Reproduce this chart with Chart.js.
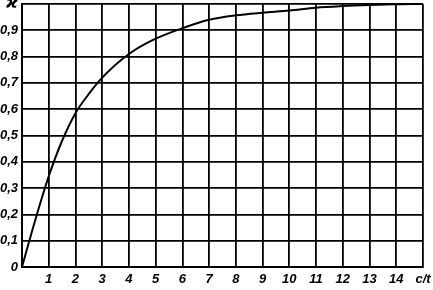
<!DOCTYPE html>
<html>
<head>
<meta charset="utf-8">
<script src="https://cdn.jsdelivr.net/npm/chart.js@4"></script>
<style>
  html, body { margin: 0; padding: 0; background: #fff; }
  #wrap { width: 433px; height: 290px; }
</style>
</head>
<body>
<div id="wrap"><canvas id="myChart"></canvas></div>
<script>
// values
const cValues = [0, 0.5, 1, 1.5, 2, 2.5, 3, 4, 5, 6, 7, 8, 9, 10, 11, 12, 13, 14, 15];
const kappaValues = [0, 0.18, 0.345, 0.48, 0.585, 0.658, 0.72, 0.81, 0.868, 0.908, 0.94, 0.957, 0.967, 0.975, 0.986, 0.992, 0.996, 0.999, 1.0];
const xTickLabels = ['', '1', '2', '3', '4', '5', '6', '7', '8', '9', '10', '11', '12', '13', '14', 'c/t'];
const yTickLabels = ['0', '0,1', '0,2', '0,3', '0,4', '0,5', '0,6', '0,7', '0,8', '0,9', 'ϰ'];

const ctx = document.getElementById('myChart');
const fam = '"Liberation Sans Narrow", "Liberation Sans", "DejaVu Sans", sans-serif';
const tickFont = { family: fam, size: 13, style: 'italic', weight: 'bold' };
const kappaFont = { family: '"DejaVu Sans", sans-serif', size: 16, style: 'italic', weight: 'bold' };

const puntos = cValues.map((c, i) => ({ x: c, y: kappaValues[i] }));

const configuracion = {
  type: 'line',
  data: {
    datasets: [{
      data: puntos,
      borderColor: '#000',
      borderWidth: 2,
      pointRadius: 0,
      fill: false,
      cubicInterpolationMode: 'monotone'
    }]
  },
  options: {
    responsive: true,
    maintainAspectRatio: false,
    animation: false,
    layout: { padding: { left: 0, right: 10, top: 4, bottom: 0 } },
    plugins: { legend: { display: false }, tooltip: { enabled: false } },
    scales: {
      x: {
        type: 'linear',
        min: 0,
        max: 15,
        afterFit: function (scale) {
          scale.height = 23;
          scale.paddingLeft = 0;
          scale.paddingRight = 0;
        },
        ticks: {
          stepSize: 1,
          color: '#000',
          font: tickFont,
          padding: 5,
          maxRotation: 0,
          autoSkip: false,
          callback: function (v) { return xTickLabels[Math.round(v)]; }
        },
        grid: { color: '#000', lineWidth: 1.8, drawTicks: false },
        border: { color: '#000', width: 2 }
      },
      y: {
        min: 0,
        max: 1,
        afterFit: function (scale) {
          scale.width = 22;
          scale.paddingTop = 0;
          scale.paddingBottom = 0;
        },
        ticks: {
          stepSize: 0.1,
          color: '#000',
          font: function (c) {
            return (c.tick && Math.round(c.tick.value * 10) === 10) ? kappaFont : tickFont;
          },
          padding: 4,
          autoSkip: false,
          callback: function (v) { return yTickLabels[Math.round(v * 10)]; }
        },
        grid: { color: '#000', lineWidth: 1.8, drawTicks: false },
        border: { color: '#000', width: 2 }
      }
    }
  }
};

const grafica = new Chart(ctx, configuracion);
</script>
</body>
</html>
